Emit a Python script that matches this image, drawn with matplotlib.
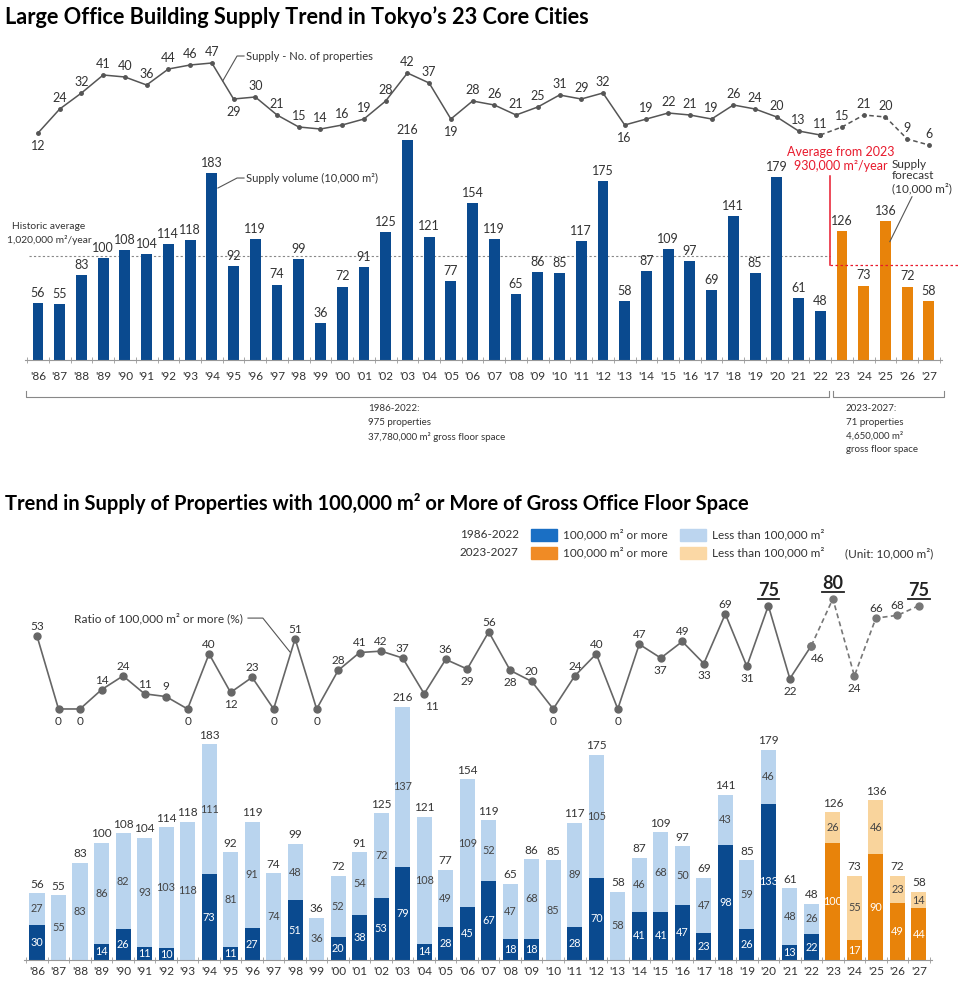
import matplotlib
matplotlib.use("Agg")
import matplotlib.pyplot as plt
import numpy as np
from matplotlib.patches import Rectangle

plt.rcParams['font.family'] = ['Lato', 'DejaVu Sans']

years = list(range(1986, 2028))
year_labels = ["'" + str(y)[2:] for y in years]

# supply - number of properties
properties = [12, 24, 32, 41, 40, 36, 44, 46, 47, 29, 30, 21, 15, 14, 16, 19, 28, 42, 37, 19, 28,
              26, 21, 25, 31, 29, 32, 16, 19, 22, 21, 19, 26, 24, 20, 13, 11, 15, 21, 20, 9, 6]
# supply volume (10,000 m2)
volume = [56, 55, 83, 100, 108, 104, 114, 118, 183, 92, 119, 74, 99, 36, 72, 91, 125, 216, 121, 77, 154,
          119, 65, 86, 85, 117, 175, 58, 87, 109, 97, 69, 141, 85, 179, 61, 48, 126, 73, 136, 72, 58]
# 100,000 m2 or more / less than 100,000 m2
large = [30, 0, 0, 14, 26, 11, 10, 0, 73, 11, 27, 0, 51, 0, 20, 38, 53, 79, 14, 28, 45,
         67, 18, 18, 0, 28, 70, 0, 41, 41, 47, 23, 98, 26, 133, 13, 22, 100, 17, 90, 49, 44]
small = [27, 55, 83, 86, 82, 93, 103, 118, 111, 81, 91, 74, 48, 36, 52, 54, 72, 137, 108, 49, 109,
         52, 47, 68, 85, 89, 105, 58, 46, 68, 50, 47, 43, 59, 46, 48, 26, 26, 55, 46, 23, 14]
# ratio of 100,000 m2 or more (%)
ratio = [53, 0, 0, 14, 24, 11, 9, 0, 40, 12, 23, 0, 51, 0, 28, 41, 42, 37, 11, 36, 29,
         56, 28, 20, 0, 24, 40, 0, 47, 37, 49, 33, 69, 31, 75, 22, 46, 80, 24, 66, 68, 75]

hist_avg = 102   # 1,020,000 m2/year
fcst_avg = 93    # 930,000 m2/year
last_actual = 2022

W, H = 960, 996
fig = plt.figure(figsize=(W / 100, H / 100), dpi=100)


def fx(px):
    return px / W


def fy(py):
    return 1 - py / H


x = np.arange(len(years))
is_fc = np.array(years) > last_actual
n_act = int((~is_fc).sum())

BLUE = '#0a4a8f'
LBLUE = '#b9d4ee'
ORANGE = '#e8830a'
LORANGE = '#f9d49c'
GREY = '#555555'
RED = '#e8192c'
TXT = '#333333'


def setup_base(ax, pad):
    for s in ['top', 'left', 'right']:
        ax.spines[s].set_visible(False)
    ax.spines['bottom'].set_color('#999999')
    ax.spines['bottom'].set_bounds(-0.6, len(years) - 0.4)
    ax.set_yticks([])
    ax.set_xticks(x)
    ax.set_xticklabels(year_labels)
    ax.set_xticks(np.arange(len(years) + 1) - 0.5, minor=True)
    ax.tick_params(axis='x', which='major', length=0, pad=pad, labelsize=8.5, labelcolor=TXT)
    ax.tick_params(axis='x', which='minor', length=5, direction='inout', color='#999999')
    ax.patch.set_alpha(0)


# ---------------- top chart ----------------
fig.text(fx(5), fy(17), "Large Office Building Supply Trend in Tokyo\u2019s 23 Core Cities",
         fontsize=15.7, fontweight='bold', va='center', color='black')

ax1 = fig.add_axes([0, fy(360), 1, 320 / H])
ax1.set_xlim(-1.749, 42.43)
ax1.set_ylim(0, 313.7)
setup_base(ax1, 8)
ax1.bar(x, volume, width=0.5, color=[ORANGE if f else BLUE for f in is_fc], zorder=2)
for i, v in zip(x, volume):
    ax1.text(i, v + 4, str(v), ha='center', va='bottom', fontsize=9, color=TXT)

ax1.plot([-0.4, n_act - 0.55], [hist_avg, hist_avg], ls=(0, (2, 2)), color='#888888', lw=0.8, zorder=1)
ax1.plot([n_act - 0.55, len(years) + 0.4], [fcst_avg, fcst_avg], ls=(0, (2, 2)), color=RED, lw=0.9)
ax1.plot([n_act - 0.55, n_act - 0.55], [fcst_avg, 180], color=RED, lw=1.1)

ax1.text(0.5, 124, "Historic average\n1,020,000 m\u00b2/year", ha='center', va='center',
         fontsize=7.4, color=TXT, linespacing=1.6)
ax1.text(36.95, 197, "Average from 2023\n930,000 m\u00b2/year", ha='center', va='center',
         fontsize=9, color=RED, linespacing=1.2)
ax1.text(39.3, 180, "Supply\nforecast\n(10,000 m\u00b2)", ha='left', va='center',
         fontsize=8.5, color=TXT, linespacing=1.1)
ax1.plot([40.22, 39.2], [160, 116], color=GREY, lw=0.8)

ax1.plot([8.28, 9.16, 9.48], [168.6, 178.4, 178.4], color=GREY, lw=0.8)
ax1.text(9.55, 178.4, "Supply volume (10,000 m\u00b2)", va='center', fontsize=8, color=TXT)

# bracket under axis
ax1.plot([-0.55, -0.55, n_act - 0.58, n_act - 0.58], [-30.4, -36.3, -36.3, -30.4],
         color='#888888', lw=0.8, clip_on=False)
ax1.plot([n_act - 0.42, n_act - 0.42, len(years) - 0.3, len(years) - 0.3], [-30.4, -36.3, -36.3, -30.4],
         color='#888888', lw=0.8, clip_on=False)
fig.text(fx(368), fy(404), "1986-2022:\n975 properties\n37,780,000 m\u00b2 gross floor space",
         va='top', fontsize=7, color=TXT, linespacing=1.65)
fig.text(fx(846), fy(404), "2023-2027:\n71 properties\n4,650,000 m\u00b2\ngross floor space",
         va='top', fontsize=7, color=TXT, linespacing=1.65)

ax2 = ax1.twinx()
ax2.set_ylim(-101.5, 58.5)
ax2.axis('off')
ax2.plot(x[:n_act], properties[:n_act], color=GREY, lw=1.1, marker='o', ms=2.5)
ax2.plot(x[n_act - 1:], properties[n_act - 1:], color=GREY, lw=1.1, ls=(0, (3, 2)), marker='o', ms=2.5)
below_top = {0, 9, 19, 27}
for i, v in zip(x, properties):
    if i in below_top:
        ax2.text(i, v - 3.5, str(v), ha='center', va='top', fontsize=9, color=TXT)
    else:
        ax2.text(i, v + 2.5, str(v), ha='center', va='bottom', fontsize=9, color=TXT)
ax2.plot([8.5, 9.16, 9.48], [38, 50.5, 50.5], color=GREY, lw=0.8)
ax2.text(9.55, 50.5, "Supply - No. of properties", va='center', fontsize=8, color=TXT)

# ---------------- bottom chart ----------------
fig.text(fx(5), fy(503), "Trend in Supply of Properties with 100,000 m\u00b2 or More of Gross Office Floor Space",
         fontsize=14.5, fontweight='bold', va='center', color='black')

legend_rows = [("1986-2022", '#1a6fc4', '#bcd5ef', 535), ("2023-2027", '#f08b25', '#fbd8a5', 553)]
for label, c_big, c_small, yy in legend_rows:
    fig.text(fx(460), fy(yy), label, va='center', fontsize=8.5, color=TXT)
    fig.add_artist(Rectangle((fx(531), fy(yy + 6)), 26 / W, 12 / H, color=c_big, transform=fig.transFigure))
    fig.text(fx(563), fy(yy), "100,000 m\u00b2 or more", va='center', fontsize=8.5, color=TXT)
    fig.add_artist(Rectangle((fx(680), fy(yy + 6)), 26 / W, 12 / H, color=c_small, transform=fig.transFigure))
    fig.text(fx(712), fy(yy), "Less than 100,000 m\u00b2", va='center', fontsize=8.5, color=TXT)
fig.text(fx(845), fy(553), "(Unit: 10,000 m\u00b2)", va='center', fontsize=8.5, color=TXT)

ax3 = fig.add_axes([0, fy(960), 1, 370 / H])
ax3.set_xlim(-1.72, 42.91)
ax3.set_ylim(0, 315.4)
setup_base(ax3, 4)
ax3.bar(x, large, width=0.7, color=[ORANGE if f else BLUE for f in is_fc], zorder=2)
ax3.bar(x, small, width=0.7, bottom=large, color=[LORANGE if f else LBLUE for f in is_fc], zorder=2)
for i, lg, sm, tot in zip(x, large, small, volume):
    ax3.text(i, lg + sm + 3, str(tot), ha='center', va='bottom', fontsize=8.5, color=TXT)
    if lg > 0:
        ax3.text(i, lg / 2, str(lg), ha='center', va='center', fontsize=7.8, color='white', zorder=3)
    ax3.text(i, lg + sm / 2, str(sm), ha='center', va='center', fontsize=7.8, color='#444444', zorder=3)

ax4 = ax3.twinx()
ax4.set_ylim(-182.3, 86.4)
ax4.axis('off')
ax4.plot(x[:n_act], ratio[:n_act], color='#666666', lw=1.2, marker='o', ms=5)
ax4.plot(x[n_act - 1:], ratio[n_act - 1:], color='#777777', lw=1.2, ls=(0, (3, 2)), marker='o', ms=5)
below_bot = {1, 2, 7, 9, 11, 13, 18, 20, 22, 24, 27, 29, 31, 33, 35, 36, 38}
shift_right = {18: 0.35, 36: 0.3}
highlight = {34, 37, 41}
for i, v in zip(x, ratio):
    dx = shift_right.get(i, 0)
    if i in highlight:
        ax4.text(i, v + 5, str(v), ha='center', va='bottom', fontsize=13, fontweight='bold', color='#222222')
        ax4.plot([i - 0.5, i + 0.5], [v + 4.6, v + 4.6], color='#222222', lw=1.3)
    elif i in below_bot:
        ax4.text(i + dx, v - 5, str(v), ha='center', va='top', fontsize=8.5, color=TXT)
    else:
        ax4.text(i, v + 3, str(v), ha='center', va='bottom', fontsize=8.5, color=TXT)
ax4.plot([9.81, 10.5, 11.76], [66, 66, 41.4], color=GREY, lw=0.8)
ax4.text(9.58, 66, "Ratio of 100,000 m\u00b2 or more (%)", ha='right', va='center', fontsize=8.6, color=TXT)

fig.savefig("out.png", dpi=100, facecolor='white')
